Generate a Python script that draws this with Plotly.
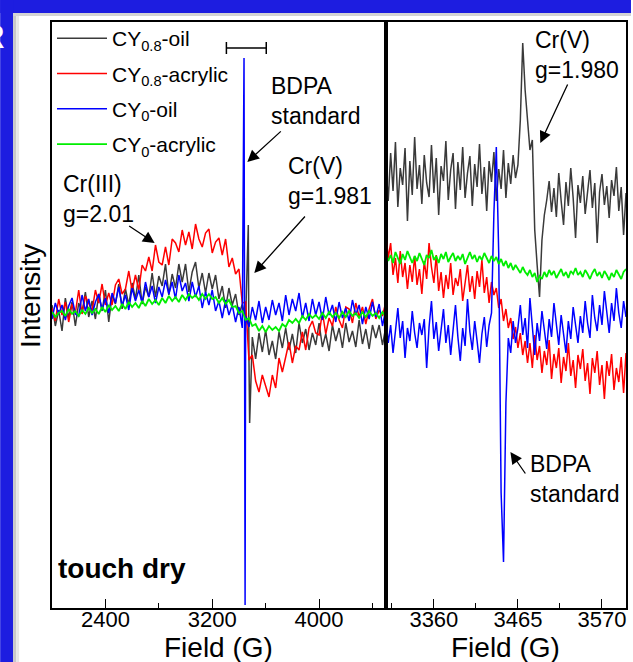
import plotly.graph_objects as go

# ---------------- data (intensity in arbitrary units) ----------------
SERIES_NAMES = ["CY<sub>0.8</sub>-oil", "CY<sub>0.8</sub>-acrylic", "CY<sub>0</sub>-oil", "CY<sub>0</sub>-acrylic"]

FIELD_LEFT = [2000, 2025, 2050, 2075, 2100, 2125, 2150, 2175, 2200, 2225, 2250, 2275, 2300, 2325, 2350, 2375,
              2400, 2425, 2450, 2475, 2500, 2525, 2550, 2575, 2600, 2625, 2650, 2675, 2700, 2725, 2750, 2775,
              2800, 2825, 2850, 2875, 2900, 2925, 2950, 2975, 3000, 3025, 3050, 3075, 3100, 3125, 3150, 3175,
              3200, 3225, 3250, 3275, 3300, 3325, 3350, 3375, 3400, 3425, 3450, 3475, 3500, 3525, 3550, 3575,
              3600, 3625, 3650, 3675, 3700, 3725, 3750, 3775, 3800, 3825, 3850, 3875, 3900, 3925, 3950, 3975,
              4000, 4025, 4050, 4075, 4100, 4125, 4150, 4175, 4200, 4225, 4250, 4275, 4300, 4325, 4350, 4375,
              4400, 4425, 4450, 4475, 4500]

DARK_LEFT = [8, -13, 3, -18, 15, -5, 11, -13, 10, 1, 21, -4, 12, -6, 19, 2, 23, -9, 18, 9,
             29, 4, 24, 8, 30, 14, 38, 9, 26, 16, 40, 16, 37, 27, 49, 18, 39, 25, 49, 31,
             49, 21, 41, 51, 25, 40, 20, 40, 24, 38, 14, 27, 5, 25, 8, 19, -2, 9, -6, -45,
             -24, -46, -20, -39, -17, -42, -28, -46, -19, -35, -15, -37, -21, -40, -10, -30, -16, -37, -20, -32,
             -10, -34, -21, -38, -12, -28, -15, -35, -10, -29, -18, -34, -7, -31, -16, -36, -12, -25, -12, -32,
             -14]
DARK_LEFT_SPIKE_FIELD = [3470, 3480]
DARK_LEFT_SPIKE = [88, -110]

RED_LEFT = [5, -8, 14, -2, 11, -9, 9, 0, 23, -1, 17, 10, 2, 23, 10, 29, 8, 20, 8, 28,
            34, 19, 24, 42, 22, 38, 23, 48, 42, 56, 42, 68, 51, 48, 66, 48, 74, 70, 61, 83,
            68, 81, 64, 89, 74, 66, 80, 84, 60, 71, 75, 58, 74, 46, 55, 39, 44, 10, 11, -47,
            -42, -68, -79, -62, -73, -84, -62, -75, -45, -59, -44, -29, -50, -33, -37, -19, -37, -15, -8, -20,
            -22, 1, -21, -5, -13, 6, -7, -15, 6, 4, -10, 10, -4, 6, -11, 4, 14, -6, 3, -3,
            11]

BLUE_LEFT = [-6, 10, -1, 8, -7, 7, 15, -1, -3, 18, 2, 14, -2, 11, 19, 3, 15, 0, 20, 10,
             26, 7, 18, 3, 25, 12, 23, 10, 31, 16, 27, 10, 26, 16, 33, 19, 31, 14, 38, 22,
             30, 12, 31, 16, 27, 5, 21, 8, 23, 2, 12, -5, 13, -2, 8, -9, 6, -15, -3, -14,
             6, -7, 12, -10, 6, -7, 13, -2, 10, -8, 18, -2, 14, 2, 20, -5, 10, -8, 14, -2,
             11, -7, 16, -2, 8, -9, 11, -5, 5, -8, 13, -2, 8, -11, 6, -6, 11, -4, 9, -13,
             4]
BLUE_LEFT_SPIKE_FIELD = [3438, 3446]
BLUE_LEFT_SPIKE = [255, -292]

GREEN_LEFT = [1, -4, 0, 2, -3, 4, -1, 2, -3, 3, -1, 5, 0, 4, -1, 6, 1, 8, 3, 7,
              2, 9, 4, 11, 6, 10, 5, 12, 7, 14, 9, 13, 8, 15, 10, 17, 12, 16, 11, 18,
              13, 19, 15, 18, 13, 19, 14, 19, 14, 16, 10, 15, 9, 13, 6, 7, 0, 2, -7, -5,
              -13, -11, -18, -13, -19, -13, -17, -14, -18, -11, -14, -7, -10, -6, -10, -3, -7, -1, -5, -2,
              -6, 0, -5, 1, -4, 0, -5, 1, -4, 2, -3, 0, -5, 1, -4, 2, -3, 0, -5, 1,
              -4]

FIELD_RIGHT = [3300, 3303, 3306, 3309, 3312, 3315, 3318, 3321, 3324, 3327, 3330, 3333, 3336, 3339, 3342, 3345,
               3348, 3351, 3354, 3357, 3360, 3363, 3366, 3369, 3372, 3375, 3378, 3381, 3384, 3387, 3390, 3393,
               3396, 3399, 3402, 3405, 3408, 3411, 3414, 3417, 3420, 3423, 3426, 3429, 3432, 3435, 3438, 3441,
               3444, 3447, 3450, 3453, 3456, 3459, 3462, 3465, 3468, 3471, 3474, 3477, 3480, 3483, 3486, 3489,
               3492, 3495, 3498, 3501, 3504, 3507, 3510, 3513, 3516, 3519, 3522, 3525, 3528, 3531, 3534, 3537,
               3540, 3543, 3546, 3549, 3552, 3555, 3558, 3561, 3564, 3567, 3570, 3573, 3576, 3579, 3582, 3585,
               3588, 3591, 3594, 3597, 3600]

DARK_RIGHT = [150, 112, 160, 122, 171, 106, 145, 128, 165, 92, 152, 118, 176, 124, 148, 109, 158, 130, 116, 168,
              120, 155, 98, 147, 132, 172, 113, 143, 160, 104, 151, 123, 166, 115, 140, 157, 107, 149, 126, 169,
              119, 146, 102, 152, 131, 161, 112, 144, 124, 163, 115, 150, 129, 158, 135, 148, 193, 270, 223, 188,
              163, 173, 83, 48, 16, 73, 98, 113, 132, 101, 125, 96, 140, 112, 88, 131, 107, 145, 115, 75,
              128, 110, 137, 99, 124, 143, 105, 130, 70, 121, 139, 108, 127, 95, 133, 117, 146, 102, 126, 78,
              120]

RED_RIGHT = [80, 55, 70, 38, 55, 30, 62, 36, 50, 24, 48, 31, 57, 28, 44, 19, 52, 34, 70, 46,
             30, 58, 22, 41, 15, 38, 24, 50, 18, 35, 27, 44, 12, 33, 48, 21, 37, 14, 42, 26,
             53, 20, 36, 10, 31, 18, 25, 5, 14, -8, 4, -15, -5, -26, -14, -35, -20, -42, -28, -50,
             -30, -55, -22, -47, -33, -60, -38, -52, -27, -66, -41, -55, -35, -70, -44, -58, -30, -63, -47, -75,
             -42, -56, -36, -68, -50, -81, -45, -60, -38, -72, -52, -86, -48, -63, -41, -77, -55, -69, -44, -80,
             -40]

BLUE_RIGHT = [-5, -30, -12, -40, -18, 5, -25, -8, -45, -15, -28, 2, -20, -35, -10, -22, -6, -55, -14, 12,
              -26, -9, -38, -16, 4, -30, -12, -42, -20, 8, -24, -48, -15, -33, 14, -19, -37, -8, -28, -50,
              -21, -4, -34, -12, 0, 100, 166, 60, -180, -249, -90, -25, -40, -8, -30, -15, 8, -22, -5, -35,
              15, -18, -42, -10, -28, 2, -20, -36, -6, -24, 10, -14, -32, -2, -19, -40, -8, -26, 6, -15,
              -30, -3, -20, 12, -10, -25, 18, -5, -18, 8, -12, 22, -2, -20, 10, -8, 25, 0, -15, 12,
              -4]

GREEN_RIGHT = [60, 52, 58, 50, 61, 54, 49, 59, 53, 62, 55, 50, 57, 52, 60, 54, 48, 58, 55, 63,
               53, 57, 50, 59, 54, 61, 51, 56, 60, 52, 57, 53, 59, 49, 56, 61, 54, 58, 51, 57,
               53, 60, 55, 50, 57, 52, 56, 49, 54, 47, 52, 45, 50, 43, 48, 44, 40, 46, 41, 38,
               43, 36, 40, 31, 37, 34, 41, 36, 43, 38, 42, 35, 40, 44, 37, 41, 35, 42, 39, 45,
               38, 41, 36, 43, 39, 34, 40, 44, 37, 41, 35, 42, 38, 33, 40, 36, 43, 39, 34, 41,
               44]

LEFT_TICKS = [2400, 3200, 4000]
LEFT_MINOR = [2800, 3600, 4400]
RIGHT_TICKS = [3360, 3465, 3570]
RIGHT_MINOR = [3307.5, 3412.5, 3517.5]

# ---------------- helpers ----------------
W, H = 633, 662
ML, MR, MT, MB = 52, 5, 22, 54
PW, PH = W - ML - MR, H - MT - MB
SPLIT = 387


def px(x):
    return (x - ML) / PW


def py(y):
    return (H - MB - y) / PH


def merged(field, vals, extra_field=None, extra_vals=None):
    pts = list(zip(field, vals))
    if extra_field:
        pts += list(zip(extra_field, extra_vals))
    pts.sort(key=lambda p: p[0])
    return [p[0] for p in pts], [p[1] for p in pts]


FONT = "Arial, 'Liberation Sans', Helvetica, sans-serif"
COLORS = ["#3a3a3a", "#ff0000", "#0000ff", "#00ee00"]
WIDTHS = [1.5, 1.5, 1.5, 1.8]

left_data = [
    merged(FIELD_LEFT, DARK_LEFT, DARK_LEFT_SPIKE_FIELD, DARK_LEFT_SPIKE),
    merged(FIELD_LEFT, RED_LEFT),
    merged(FIELD_LEFT, BLUE_LEFT, BLUE_LEFT_SPIKE_FIELD, BLUE_LEFT_SPIKE),
    merged(FIELD_LEFT, GREEN_LEFT),
]
right_data = [
    (FIELD_RIGHT, DARK_RIGHT),
    (FIELD_RIGHT, RED_RIGHT),
    (FIELD_RIGHT, BLUE_RIGHT),
    (FIELD_RIGHT, GREEN_RIGHT),
]

fig = go.Figure()
for i, name in enumerate(SERIES_NAMES):
    xs, ys = left_data[i]
    fig.add_trace(go.Scatter(x=xs, y=ys, mode="lines", name=name, legendgroup=str(i),
                             line=dict(color=COLORS[i], width=WIDTHS[i]),
                             xaxis="x", yaxis="y"))
for i, name in enumerate(SERIES_NAMES):
    xs, ys = right_data[i]
    fig.add_trace(go.Scatter(x=xs, y=ys, mode="lines", name=name, legendgroup=str(i), showlegend=False,
                             line=dict(color=COLORS[i], width=WIDTHS[i]),
                             xaxis="x2", yaxis="y2"))

YR = [-295, 291]
split_frac = px(SPLIT)
axis_common = dict(showline=True, mirror=True, linecolor="black", linewidth=1.5,
                   showgrid=False, zeroline=False)
tick_common = dict(tickmode="array", ticks="inside", ticklen=9, tickwidth=1.3, tickcolor="black",
                   tickfont=dict(size=22, family=FONT), ticklabelstandoff=-9)

fig.update_layout(
    width=W, height=H,
    margin=dict(l=ML, r=MR, t=MT, b=MB, pad=0),
    paper_bgcolor="white", plot_bgcolor="white",
    font=dict(family=FONT, color="black"),
    showlegend=True,
    legend=dict(x=px(52), y=py(18), xanchor="left", yanchor="top", bgcolor="rgba(0,0,0,0)",
                font=dict(size=21, family=FONT), itemwidth=50, tracegroupgap=5, traceorder="grouped"),
    xaxis=dict(domain=[0, split_frac], range=[2000, 4500], anchor="y", tickvals=LEFT_TICKS,
               minor=dict(tickvals=LEFT_MINOR, ticks="inside", ticklen=5, tickwidth=1.3, tickcolor="black"),
               **tick_common, **axis_common),
    xaxis2=dict(domain=[split_frac, 1], range=[3300, 3600], anchor="y2", tickvals=RIGHT_TICKS,
                minor=dict(tickvals=RIGHT_MINOR, ticks="inside", ticklen=5, tickwidth=1.3, tickcolor="black"),
                **tick_common, **axis_common),
    yaxis=dict(range=YR, anchor="x", showticklabels=False, ticks="", **axis_common),
    yaxis2=dict(range=YR, anchor="x2", showticklabels=False, ticks="", **axis_common),
)

# slide decoration (blue frame, drop shadow)
BLUE = "#1d1de0"
shapes = [
    dict(type="rect", xref="paper", yref="paper", x0=px(0), x1=px(W), y0=py(13), y1=py(0),
         fillcolor=BLUE, line=dict(width=0), layer="above"),
    dict(type="rect", xref="paper", yref="paper", x0=px(0), x1=px(13), y0=py(H), y1=py(0),
         fillcolor=BLUE, line=dict(width=0), layer="above"),
    dict(type="rect", xref="paper", yref="paper", x0=px(13), x1=px(16), y0=py(H), y1=py(13),
         fillcolor="#c8c8c8", line=dict(width=0), layer="above"),
    dict(type="rect", xref="paper", yref="paper", x0=px(16), x1=px(19), y0=py(H), y1=py(13),
         fillcolor="#e6e6e6", line=dict(width=0), layer="above"),
    dict(type="rect", xref="paper", yref="paper", x0=px(13), x1=px(W), y0=py(16), y1=py(13),
         fillcolor="#d4d4d4", line=dict(width=0), layer="above"),
    # thick panel separator
    dict(type="line", xref="paper", yref="paper", x0=px(SPLIT + 0.5), x1=px(SPLIT + 0.5), y0=0, y1=1,
         line=dict(color="black", width=3), layer="above"),
    # scale bar at top of left panel
    dict(type="line", xref="paper", yref="paper", x0=px(227), x1=px(267), y0=py(48), y1=py(48),
         line=dict(color="black", width=1.5)),
    dict(type="line", xref="paper", yref="paper", x0=px(227), x1=px(227), y0=py(42), y1=py(54),
         line=dict(color="black", width=1.5)),
    dict(type="line", xref="paper", yref="paper", x0=px(267), x1=px(267), y0=py(42), y1=py(54),
         line=dict(color="black", width=1.5)),
]
fig.update_layout(shapes=shapes)

ann = []


def text(t, x, y, size=23, bold=False, anchor="left", color="black", angle=0):
    ann.append(dict(text=f"<b>{t}</b>" if bold else t, xref="paper", yref="paper",
                    x=px(x), y=py(y), xanchor=anchor, yanchor="middle", showarrow=False,
                    align="left", textangle=angle,
                    font=dict(size=size, family=FONT, color=color)))


def arrow(tip, tail):
    ann.append(dict(text="", xref="paper", yref="paper", x=px(tip[0]), y=py(tip[1]),
                    ax=tail[0] - tip[0], ay=tail[1] - tip[1], axref="pixel", ayref="pixel",
                    showarrow=True, arrowhead=2, arrowsize=1.8, arrowwidth=1.3, arrowcolor="black",
                    standoff=0, startstandoff=0))


text("Cr(III)<br>g=2.01", 61, 199)
text("BDPA<br>standard", 270, 101)
text("Cr(V)<br>g=1.981", 287, 181)
text("Cr(V)<br>g=1.980", 535, 55)
text("BDPA<br>standard", 530, 479)
text("touch dry", 56, 568, size=28, bold=True)
text("Field (G)", (ML + SPLIT) / 2, 647, size=28, anchor="center")
text("Field (G)", (SPLIT + W - MR) / 2, 647, size=28, anchor="center")
text("Intensity", 30, 296, size=28, anchor="center", angle=-90)
text("R", 7, 36, size=34, bold=True, anchor="right", color="white")

arrow((155, 243), (128, 225))
arrow((248, 162), (283, 130))
arrow((255, 273), (307, 215))
arrow((542, 143), (570, 83))
arrow((512, 452), (528, 475))

fig.update_layout(annotations=ann)

fig.write_html("out.html")
